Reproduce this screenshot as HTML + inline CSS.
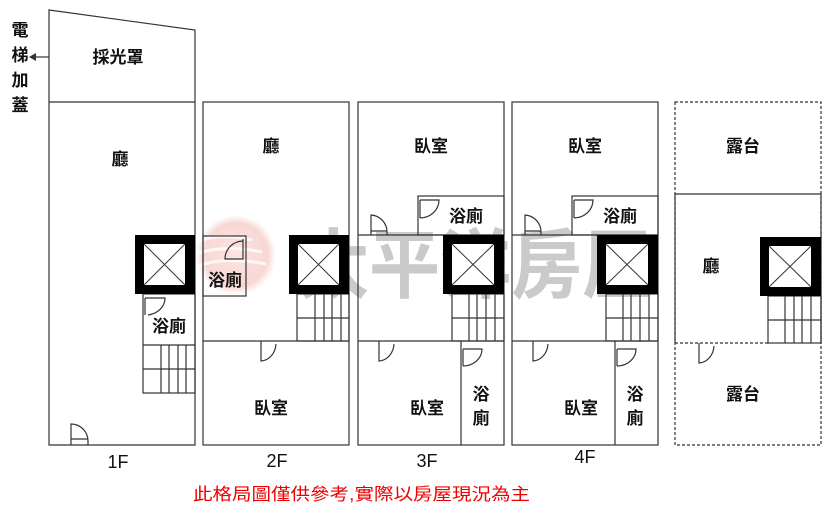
<!DOCTYPE html>
<html><head><meta charset="utf-8"><style>
html,body{margin:0;padding:0;background:#fff;}
svg{display:block;}
text{font-family:"Liberation Sans","Noto Sans CJK TC",sans-serif;}
</style></head><body>
<svg width="830" height="515" viewBox="0 0 830 515" xmlns="http://www.w3.org/2000/svg">
<defs>
<radialGradient id="lg" cx="0.5" cy="0.5" r="0.5">
<stop offset="0" stop-color="#f6c9c4" stop-opacity="0.5"/>
<stop offset="0.8" stop-color="#f0a8a0" stop-opacity="0.45"/>
<stop offset="1" stop-color="#f0a8a0" stop-opacity="0"/>
</radialGradient>
</defs>
<circle cx="236" cy="255" r="40" fill="url(#lg)"/>
<g stroke="#fff" stroke-width="3" fill="none" opacity="0.8">
<path d="M196,242 Q220,232 252,240"/><path d="M196,254 Q222,244 262,252"/><path d="M198,266 Q224,256 266,264"/>
</g>
<text x="298" y="292" font-size="76" fill="#b4b4b4" opacity="0.7" font-family="'Noto Serif CJK SC',serif" font-weight="bold" textLength="355" lengthAdjust="spacingAndGlyphs">太平洋房屋</text>

<g fill="none" stroke="#333" stroke-width="1.2">
<path d="M49,10 L195,30 L195,445 L49,445 Z"/>
<line x1="49" y1="102" x2="195" y2="102"/>
<rect x="143" y="294" width="52" height="99"/>
<line x1="143" y1="345" x2="195" y2="345"/>
<line x1="143" y1="369" x2="195" y2="369"/>
<line x1="161" y1="345" x2="161" y2="393"/><line x1="169" y1="345" x2="169" y2="393"/><line x1="178" y1="345" x2="178" y2="393"/><line x1="186" y1="345" x2="186" y2="393"/>
<path d="M145,298 V315 M145,298 H165 A20,17 0 0 1 148,315"/>
<path d="M71,445 V424 A17,17 0 0 1 88,441 V445 M71,439 H88"/>
<rect x="203" y="102" width="146" height="343"/>
<line x1="203" y1="341" x2="349" y2="341"/>
<rect x="203" y="236" width="43" height="60"/>
<path d="M243,239 V259 H225 A18,18 0 0 1 243,241"/>
<rect x="297" y="294" width="52" height="47"/>
<line x1="297" y1="318" x2="349" y2="318"/>
<line x1="315" y1="294" x2="315" y2="341"/><line x1="324" y1="294" x2="324" y2="341"/><line x1="332" y1="294" x2="332" y2="341"/><line x1="341" y1="294" x2="341" y2="341"/>
<path d="M261,341 V361 A16,18 0 0 0 276,344"/>
<rect x="358" y="102" width="146" height="343"/>
<line x1="358" y1="235" x2="504" y2="235"/>
<rect x="418" y="196" width="86" height="39"/>
<path d="M420,200 V218 M420,200 H439 A19,18 0 0 1 420,218"/>
<path d="M371,235 V215 A17,17 0 0 1 387,232 V235 M371,231 H387"/>
<rect x="452" y="294" width="52" height="47"/>
<line x1="452" y1="318" x2="504" y2="318"/>
<line x1="469" y1="294" x2="469" y2="341"/><line x1="477" y1="294" x2="477" y2="341"/><line x1="486" y1="294" x2="486" y2="341"/><line x1="495" y1="294" x2="495" y2="341"/>
<line x1="358" y1="341" x2="504" y2="341"/>
<line x1="461" y1="341" x2="461" y2="445"/>
<path d="M379,341 V361 A16,18 0 0 0 394,344"/>
<path d="M463,349 V366 M463,349 H482 A19,17 0 0 1 463,366"/>
<rect x="512" y="102" width="146" height="343"/>
<line x1="512" y1="235" x2="658" y2="235"/>
<rect x="572" y="196" width="86" height="39"/>
<path d="M574,200 V218 M574,200 H593 A19,18 0 0 1 574,218"/>
<path d="M525,235 V215 A17,17 0 0 1 541,232 V235 M525,231 H541"/>
<rect x="606" y="294" width="52" height="47"/>
<line x1="606" y1="318" x2="658" y2="318"/>
<line x1="623" y1="294" x2="623" y2="341"/><line x1="631" y1="294" x2="631" y2="341"/><line x1="640" y1="294" x2="640" y2="341"/><line x1="649" y1="294" x2="649" y2="341"/>
<line x1="512" y1="341" x2="658" y2="341"/>
<line x1="615" y1="341" x2="615" y2="445"/>
<path d="M533,341 V361 A16,18 0 0 0 548,344"/>
<path d="M617,349 V366 M617,349 H636 A19,17 0 0 1 617,366"/>
<rect x="675" y="102" width="146" height="343" stroke-dasharray="3,2"/>
<path d="M675,343 V194 H821 V343"/>
<rect x="768" y="296" width="53" height="47"/>
<line x1="768" y1="320" x2="821" y2="320"/>
<line x1="785" y1="296" x2="785" y2="343"/><line x1="794" y1="296" x2="794" y2="343"/><line x1="802" y1="296" x2="802" y2="343"/><line x1="811" y1="296" x2="811" y2="343"/>
<line x1="675" y1="343" x2="768" y2="343" stroke-dasharray="3,2"/>
<path d="M699,343 V363 A16,18 0 0 0 714,346"/>
<line x1="34" y1="57" x2="49" y2="57"/>
</g>
<path d="M29,57 L36,53 L36,61 Z" fill="#333"/>

<g>
<rect x="135" y="235" width="60" height="59" fill="#000"/>
<rect x="144" y="244" width="41" height="41" fill="#fff"/>
<path d="M144,244 L185,285 M185,244 L144,285" stroke="#333" stroke-width="1"/>
<rect x="289" y="235" width="60" height="59" fill="#000"/>
<rect x="298" y="244" width="41" height="41" fill="#fff"/>
<path d="M298,244 L339,285 M339,244 L298,285" stroke="#333" stroke-width="1"/>
<rect x="443" y="235" width="61" height="59" fill="#000"/>
<rect x="452" y="244" width="42" height="41" fill="#fff"/>
<path d="M452,244 L494,285 M494,244 L452,285" stroke="#333" stroke-width="1"/>
<rect x="597" y="235" width="61" height="59" fill="#000"/>
<rect x="606" y="244" width="42" height="41" fill="#fff"/>
<path d="M606,244 L648,285 M648,244 L606,285" stroke="#333" stroke-width="1"/>
<rect x="760" y="237" width="61" height="59" fill="#000"/>
<rect x="769" y="246" width="42" height="41" fill="#fff"/>
<path d="M769,246 L811,287 M811,246 L769,287" stroke="#333" stroke-width="1"/>
</g>

<g font-size="17" fill="#111" text-anchor="middle" font-weight="bold">
<text x="20" y="36">電</text><text x="20" y="61">梯</text><text x="20" y="86">加</text><text x="20" y="111">蓋</text>
<text x="118" y="63">採光罩</text>
<text x="120" y="165">廳</text>
<text x="169" y="332">浴廁</text>
<text x="225" y="286">浴廁</text>
<text x="271" y="152">廳</text>
<text x="271" y="414">臥室</text>
<text x="431" y="152">臥室</text>
<text x="466" y="222">浴廁</text>
<text x="427" y="414">臥室</text>
<text x="481" y="400">浴</text><text x="481" y="424">廁</text>
<text x="585" y="152">臥室</text>
<text x="620" y="222">浴廁</text>
<text x="581" y="414">臥室</text>
<text x="635" y="400">浴</text><text x="635" y="424">廁</text>
<text x="743" y="152">露台</text>
<text x="711" y="272">廳</text>
<text x="743" y="400">露台</text>
</g>
<g font-size="18" fill="#111" text-anchor="middle">
<text x="118" y="468">1F</text>
<text x="277" y="467">2F</text>
<text x="427" y="467">3F</text>
<text x="585" y="463">4F</text>
</g>
<text x="193" y="500" font-size="17" fill="#e00" textLength="337" lengthAdjust="spacingAndGlyphs">此格局圖僅供參考,實際以房屋現況為主</text>
</svg>
</body></html>
